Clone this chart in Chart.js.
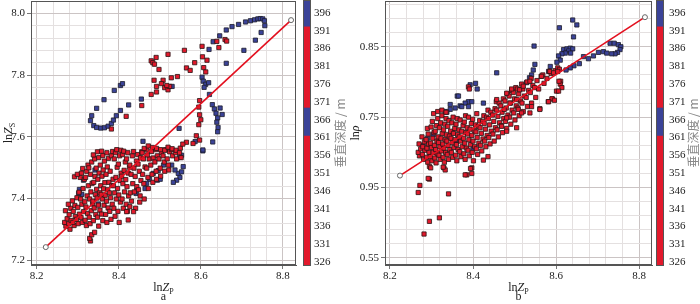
<!DOCTYPE html>
<html><head><meta charset="utf-8">
<script src="https://cdn.jsdelivr.net/npm/chart.js@4.4.0/dist/chart.umd.min.js"></script>
<style>
body{margin:0;background:#fff;width:700px;height:304px;position:relative;overflow:hidden}
canvas{position:absolute;top:0}
</style></head><body>
<canvas id="ca" style="left:0px" width="300" height="304"></canvas>
<canvas id="cbarA" style="left:300px" width="50" height="304"></canvas>
<canvas id="cb" style="left:350px" width="303" height="304"></canvas>
<canvas id="cbarB" style="left:653px" width="47" height="304"></canvas>
<script>
// chart a : lnZp vs lnZs, split by depth colour
const aRed = [
[8.271,7.31],[8.268,7.322],[8.274,7.334],[8.27,7.36],
[8.281,7.30],[8.278,7.318],[8.284,7.328],[8.279,7.347],[8.283,7.368],[8.277,7.381],
[8.291,7.312],[8.288,7.322],[8.294,7.341],[8.289,7.358],[8.293,7.377],[8.287,7.392],[8.292,7.47],
[8.301,7.318],[8.297,7.332],[8.304,7.349],[8.30,7.371],[8.298,7.402],[8.303,7.42],[8.306,7.468],[8.299,7.478],
[8.311,7.322],[8.308,7.338],[8.314,7.357],[8.31,7.381],[8.307,7.398],[8.313,7.432],[8.316,7.462],[8.309,7.482],[8.312,7.497],
[8.321,7.312],[8.318,7.329],[8.324,7.351],[8.32,7.372],[8.317,7.389],[8.323,7.408],[8.326,7.441],[8.319,7.468],[8.322,7.488],[8.325,7.508],
[8.331,7.262],[8.329,7.27],[8.334,7.282],[8.33,7.318],[8.328,7.339],[8.333,7.36],[8.336,7.382],[8.329,7.398],[8.332,7.421],[8.335,7.449],[8.331,7.478],[8.327,7.499],[8.334,7.518],
[8.341,7.29],[8.338,7.328],[8.344,7.348],[8.34,7.369],[8.337,7.391],[8.343,7.412],[8.346,7.429],[8.339,7.452],[8.342,7.471],[8.345,7.498],[8.341,7.528],[8.338,7.541],
[8.351,7.31],[8.348,7.339],[8.354,7.362],[8.35,7.378],[8.347,7.401],[8.353,7.418],[8.356,7.441],[8.349,7.462],[8.352,7.482],[8.355,7.508],[8.351,7.532],[8.348,7.551],
[8.361,7.328],[8.358,7.349],[8.364,7.378],[8.36,7.398],[8.357,7.413],[8.363,7.431],[8.366,7.451],[8.359,7.472],[8.362,7.492],[8.365,7.521],[8.361,7.539],[8.358,7.553],
[8.371,7.322],[8.368,7.348],[8.374,7.369],[8.37,7.391],[8.367,7.41],[8.373,7.428],[8.376,7.452],[8.369,7.478],[8.372,7.502],[8.375,7.53],[8.371,7.548],
[8.381,7.332],[8.378,7.358],[8.384,7.381],[8.38,7.402],[8.377,7.418],[8.383,7.442],[8.386,7.462],[8.379,7.488],[8.382,7.538],[8.385,7.552],
[8.391,7.342],[8.388,7.368],[8.394,7.398],[8.39,7.418],[8.387,7.441],[8.393,7.468],[8.396,7.501],[8.389,7.528],[8.392,7.548],[8.395,7.558],
[8.401,7.322],[8.398,7.358],[8.404,7.388],[8.40,7.411],[8.397,7.432],[8.403,7.458],[8.406,7.482],[8.399,7.511],[8.402,7.538],[8.405,7.556],
[8.411,7.368],[8.408,7.398],[8.414,7.421],[8.41,7.448],[8.407,7.472],[8.413,7.491],[8.416,7.518],[8.409,7.542],[8.412,7.553],
[8.421,7.358],[8.418,7.381],[8.424,7.408],[8.42,7.438],[8.417,7.461],[8.423,7.482],[8.426,7.501],[8.419,7.528],[8.422,7.548],
[8.431,7.391],[8.428,7.418],[8.434,7.448],[8.43,7.478],[8.427,7.508],[8.433,7.538],[8.436,7.552],
[8.441,7.368],[8.438,7.421],[8.444,7.438],[8.44,7.471],[8.437,7.498],[8.443,7.521],[8.446,7.542],
[8.451,7.388],[8.448,7.428],[8.454,7.458],[8.45,7.488],[8.447,7.511],[8.453,7.532],[8.456,7.551],[8.452,7.408],
[8.461,7.448],[8.458,7.478],[8.464,7.502],[8.46,7.528],[8.457,7.548],[8.462,7.398],
[8.471,7.468],[8.468,7.498],[8.474,7.528],[8.47,7.541],[8.467,7.558],[8.472,7.432],
[8.481,7.478],[8.478,7.508],[8.484,7.531],[8.48,7.552],[8.483,7.452],
[8.491,7.488],[8.488,7.518],[8.494,7.538],[8.49,7.558],[8.492,7.462],
[8.501,7.498],[8.498,7.528],[8.504,7.548],[8.502,7.472],
[8.511,7.518],[8.508,7.538],[8.514,7.558],[8.512,7.488],
[8.521,7.508],[8.518,7.528],[8.524,7.551],[8.522,7.492],
[8.531,7.538],[8.528,7.558],[8.541,7.528],[8.538,7.548],
[8.462,7.562],[8.472,7.57],[8.482,7.565],[8.492,7.562],[8.502,7.558],[8.512,7.556],[8.52,7.566],[8.53,7.561],[8.54,7.556],[8.55,7.563],[8.548,7.548],[8.552,7.532],
[8.427,7.373],[8.419,7.357],[8.436,7.357],[8.423,7.33],
// upper scatter
[8.479,7.846],[8.483,7.840],[8.487,7.835],[8.498,7.818],[8.491,7.857],[8.520,7.867],[8.560,7.880],[8.603,7.893],
[8.604,7.859],[8.615,7.848],[8.585,7.840],[8.565,7.823],[8.574,7.815],[8.607,7.824],[8.612,7.810],
[8.639,7.909],[8.644,7.889],[8.659,7.915],[8.663,7.910],
[8.486,7.783],[8.492,7.763],[8.508,7.783],[8.504,7.772],[8.512,7.759],[8.520,7.752],[8.524,7.763],[8.517,7.766],
[8.528,7.791],[8.543,7.795],[8.492,7.745],[8.479,7.737],[8.456,7.701],[8.418,7.666],[8.382,7.625],
[8.597,7.717],[8.595,7.696],[8.597,7.671],[8.600,7.655],[8.595,7.639],[8.589,7.603],[8.597,7.589],
[8.581,7.578],[8.565,7.582],[8.556,7.576]
];
const aBlue = [
[8.676,7.957],[8.692,7.964],[8.709,7.972],[8.721,7.976],[8.731,7.979],[8.739,7.982],[8.745,7.983],[8.751,7.982],
[8.755,7.976],[8.756,7.960],[8.747,7.938],[8.733,7.913],[8.705,7.880],[8.662,7.946],[8.646,7.927],[8.630,7.908],
[8.620,7.883],[8.662,7.838],
[8.603,7.793],[8.606,7.780],[8.612,7.770],[8.608,7.760],[8.619,7.775],
[8.621,7.737],[8.628,7.704],[8.633,7.690],[8.637,7.676],[8.641,7.661],[8.639,7.647],[8.642,7.630],[8.641,7.616],
[8.629,7.583],[8.652,7.672],[8.647,7.693],
[8.547,7.627],[8.530,7.763],[8.455,7.722],[8.459,7.585],[8.424,7.703],[8.605,7.554],
[8.331,7.652],[8.334,7.668],[8.346,7.692],[8.364,7.720],[8.389,7.750],[8.404,7.766],[8.409,7.772],[8.339,7.636],
[8.346,7.630],[8.356,7.628],[8.365,7.629],[8.374,7.634],[8.382,7.643],[8.387,7.654],[8.394,7.668],[8.404,7.685],
[8.553,7.540],[8.548,7.533],[8.509,7.508],[8.496,7.490],[8.484,7.481],[8.475,7.462],[8.468,7.449],[8.464,7.432],
[8.444,7.427],[8.442,7.416],[8.557,7.503],[8.545,7.481],[8.549,7.468],[8.541,7.459],[8.533,7.452],[8.537,7.492],
[8.553,7.486],[8.605,7.557],[8.586,7.584],[8.529,7.508],[8.494,7.459],[8.501,7.462],
[8.342,7.492],[8.314,7.459],[8.304,7.429],[8.310,7.413],[8.350,7.382],[8.302,7.416]
];
const fitA = [[8.222,7.242],[8.82,7.978]];

// chart b : lnZp vs ln rho
const bRed = [
[8.271,0.695],[8.268,0.70],[8.274,0.705],[8.27,0.712],
[8.281,0.69],[8.278,0.697],[8.284,0.703],[8.279,0.708],[8.283,0.715],[8.277,0.722],
[8.291,0.686],[8.288,0.693],[8.294,0.70],[8.289,0.706],[8.293,0.712],[8.287,0.718],[8.292,0.726],[8.29,0.734],
[8.301,0.688],[8.297,0.694],[8.304,0.70],[8.30,0.707],[8.298,0.713],[8.303,0.72],[8.306,0.728],[8.299,0.736],[8.302,0.744],
[8.311,0.685],[8.308,0.692],[8.314,0.698],[8.31,0.704],[8.307,0.71],[8.313,0.716],[8.316,0.722],[8.309,0.73],[8.312,0.738],[8.315,0.748],
[8.321,0.69],[8.318,0.696],[8.324,0.702],[8.32,0.708],[8.317,0.714],[8.323,0.72],[8.326,0.727],[8.319,0.735],[8.322,0.742],[8.325,0.752],
[8.331,0.686],[8.328,0.693],[8.334,0.70],[8.33,0.706],[8.327,0.712],[8.333,0.718],[8.336,0.725],[8.329,0.732],[8.332,0.74],[8.335,0.748],
[8.341,0.69],[8.338,0.697],[8.344,0.704],[8.34,0.71],[8.337,0.716],[8.343,0.723],[8.346,0.73],[8.339,0.737],[8.342,0.745],
[8.351,0.693],[8.348,0.70],[8.354,0.707],[8.35,0.714],[8.347,0.72],[8.353,0.727],[8.356,0.734],[8.349,0.742],[8.352,0.75],
[8.361,0.688],[8.358,0.696],[8.364,0.704],[8.36,0.711],[8.357,0.718],[8.363,0.725],[8.366,0.732],[8.359,0.74],[8.362,0.748],
[8.371,0.694],[8.368,0.701],[8.374,0.708],[8.37,0.716],[8.367,0.722],[8.373,0.73],[8.376,0.738],[8.369,0.746],
[8.381,0.69],[8.378,0.698],[8.384,0.706],[8.38,0.713],[8.377,0.72],[8.383,0.728],[8.386,0.735],[8.379,0.743],[8.382,0.752],
[8.391,0.695],[8.388,0.703],[8.394,0.711],[8.39,0.718],[8.387,0.726],[8.393,0.733],[8.396,0.741],[8.389,0.75],
[8.401,0.688],[8.398,0.70],[8.404,0.708],[8.40,0.716],[8.397,0.724],[8.403,0.731],[8.406,0.739],[8.399,0.747],
[8.411,0.697],[8.408,0.705],[8.414,0.713],[8.41,0.721],[8.407,0.729],[8.413,0.737],[8.416,0.745],[8.409,0.755],
[8.421,0.702],[8.418,0.71],[8.424,0.719],[8.42,0.727],[8.417,0.735],[8.423,0.744],[8.426,0.752],
[8.431,0.708],[8.428,0.716],[8.434,0.724],[8.43,0.733],[8.427,0.741],[8.433,0.75],[8.436,0.76],
[8.441,0.712],[8.438,0.721],[8.444,0.73],[8.44,0.739],[8.437,0.748],[8.443,0.757],
[8.451,0.716],[8.448,0.726],[8.454,0.735],[8.45,0.744],[8.447,0.753],[8.453,0.762],[8.456,0.772],
[8.461,0.722],[8.458,0.732],[8.464,0.742],[8.46,0.751],[8.457,0.76],[8.463,0.77],
[8.471,0.728],[8.468,0.738],[8.474,0.748],[8.47,0.757],[8.467,0.766],[8.473,0.776],
[8.481,0.734],[8.478,0.744],[8.484,0.753],[8.48,0.763],[8.477,0.773],[8.483,0.783],
[8.491,0.74],[8.488,0.75],[8.494,0.76],[8.49,0.77],[8.487,0.78],[8.493,0.788],
[8.501,0.746],[8.498,0.756],[8.504,0.766],[8.50,0.776],[8.497,0.785],[8.503,0.792],
[8.511,0.752],[8.508,0.763],[8.514,0.773],[8.51,0.783],[8.507,0.79],
[8.521,0.758],[8.518,0.77],[8.524,0.78],[8.52,0.79],[8.517,0.797],
[8.531,0.765],[8.528,0.778],[8.534,0.788],[8.53,0.80],
[8.541,0.77],[8.538,0.785],[8.544,0.795],[8.54,0.805],
[8.551,0.778],[8.548,0.792],[8.554,0.802],
[8.561,0.762],[8.558,0.79],[8.564,0.808],
[8.571,0.798],[8.568,0.81],
[8.581,0.772],[8.578,0.805],[8.584,0.815],
[8.591,0.776],[8.588,0.812],
[8.601,0.787],[8.598,0.816],[8.604,0.82],
[8.611,0.801],[8.608,0.818],[8.61,0.797],[8.614,0.792],
[8.272,0.653],[8.268,0.643],[8.295,0.662],[8.341,0.641],[8.319,0.607],[8.295,0.602],[8.282,0.584],[8.385,0.668],
[8.397,0.678],[8.397,0.670],[8.330,0.678],[8.333,0.675],[8.295,0.68],[8.298,0.678],[8.381,0.668],[8.394,0.677],
[8.425,0.689],[8.436,0.694],[8.328,0.679],[8.292,0.663],
[8.305,0.755],[8.315,0.758],[8.325,0.76],[8.335,0.757],[8.389,0.793],[8.391,0.79],[8.457,0.775],[8.481,0.784],
[8.493,0.79],[8.512,0.789],[8.521,0.794],[8.537,0.801],[8.565,0.808],[8.585,0.815],[8.594,0.813],[8.604,0.815],
[8.607,0.801],[8.606,0.787],[8.59,0.776],[8.596,0.774],[8.582,0.772],[8.561,0.761],[8.541,0.765],[8.505,0.775],
[8.489,0.77],[8.509,0.761],[8.517,0.756],[8.537,0.756],[8.475,0.761],[8.481,0.749],[8.469,0.737],[8.481,0.73],[8.505,0.735]
];
const bBlue = [
[8.640,0.888],[8.650,0.881],[8.608,0.877],[8.642,0.864],[8.547,0.851],
[8.618,0.846],[8.626,0.847],[8.634,0.848],[8.640,0.847],[8.630,0.844],[8.622,0.841],[8.614,0.840],[8.606,0.837],
[8.610,0.831],[8.602,0.828],[8.635,0.841],
[8.666,0.836],[8.678,0.833],[8.690,0.837],[8.702,0.842],[8.714,0.843],[8.722,0.841],[8.730,0.855],[8.740,0.855],
[8.750,0.853],[8.756,0.850],[8.754,0.846],[8.748,0.842],[8.742,0.840],[8.734,0.840],
[8.656,0.826],[8.643,0.823],[8.634,0.820],[8.624,0.817],
[8.549,0.825],[8.545,0.817],[8.541,0.810],[8.536,0.806],[8.529,0.799],[8.457,0.813],[8.406,0.798],[8.410,0.790],
[8.362,0.780],[8.425,0.770],[8.389,0.772],[8.381,0.770],[8.369,0.766],[8.357,0.763],[8.345,0.761],[8.337,0.757],
[8.389,0.765],[8.304,0.725],[8.361,0.716],[8.393,0.796],[8.365,0.780],[8.345,0.768],[8.333,0.758],[8.373,0.765],
[8.397,0.772],[8.586,0.822],[8.582,0.815],
[8.29,0.72],[8.31,0.70],[8.35,0.728],[8.40,0.705],[8.28,0.71]
];
const fitB = [[8.224,0.667],[8.814,0.892]];

// axes
const xMajor = [8.2, 8.4, 8.6, 8.8];
const yMajorA = [7.2, 7.4, 7.6, 7.8, 8.0];
const yMajorB = [0.55, 0.65, 0.75, 0.85];
const yLabelsB = ['0.55', '0.95', '0.75', '0.85'];

// colour bar (vertical depth, m)
const depthTicks = [326,331,336,341,346,351,356,361,366,371,376,381,386,391,396];
const depthBreaks = [324.9, 361.4, 369.3, 392.1, 399.65];
const depthColors = ['#e2192c', '#3b4398', '#e2192c', '#3b4398'];

const RED = '#e2192c', BLUE = '#3b4398';
const SERIF = '"Liberation Serif","Times New Roman",serif';

function steps(from, to, step){
  const out=[];
  for(let v=from; v<=to+1e-9; v+=step) out.push(+v.toFixed(4));
  return out;
}
function isMajor(v, majors){ return majors.some(m=>Math.abs(m-v)<1e-6); }
function noPad(s){ s.paddingTop=0; s.paddingBottom=0; s.paddingLeft=0; s.paddingRight=0; }

function richText(ctx, parts, cx, cy, rot){
  ctx.save();
  ctx.translate(cx, cy);
  ctx.rotate(rot||0);
  let w=0;
  parts.forEach(p=>{ctx.font=p.f; p.w=ctx.measureText(p.t).width; w+=p.w;});
  let x=-w/2;
  ctx.fillStyle='#222';
  ctx.textBaseline='alphabetic';
  parts.forEach(p=>{ctx.font=p.f; ctx.fillText(p.t, x, 4+(p.dy||0)); x+=p.w;});
  ctx.restore();
}

const frame = {
  id:'frame',
  afterDraw(chart, args, o){
    const {ctx, chartArea:a} = chart;
    ctx.save();
    ctx.strokeStyle='#555'; ctx.lineWidth=1;
    ctx.strokeRect(Math.round(a.left)+0.5, Math.round(a.top)+0.5, Math.round(a.right-a.left)-1, Math.round(a.bottom-a.top)-1);
    ctx.restore();
    const cx=(a.left+a.right)/2;
    if(o.xTitle){
      richText(ctx, o.xTitle, cx, 287);
      richText(ctx, [{t:o.letter, f:'12px '+SERIF}], cx, 296);
    }
    if(o.yTitle) richText(ctx, o.yTitle, o.yTitleX, (a.top+a.bottom)/2, -Math.PI/2);
  }
};

function scatter(id, red, blue, fit, xr, yr, yMajor, yLabels, yW, padR, titles){
  const xTicks = steps(8.2, 8.8, 0.04);
  const yTicks = steps(yr.from, yr.to, yr.step);
  const gridColor = majors => c => isMajor(c.tick.value, majors) ? '#cbc4c4' : '#e4e0e0';
  const tickColor = majors => c => isMajor(c.tick.value, majors) ? '#777' : 'rgba(0,0,0,0)';
  const pts = arr => arr.map(p=>({x:p[0], y:p[1]}));
  return new Chart(id, {
    type:'scatter',
    data:{datasets:[
      {type:'line', data:pts(fit), borderColor:'#e3101f', borderWidth:1.6, showLine:true,
       pointRadius:2.5, pointBackgroundColor:'#fff', pointBorderColor:'#666', pointBorderWidth:1, order:0},
      {data:pts(blue), pointStyle:'rect', pointRadius:3, backgroundColor:BLUE, borderColor:'#1c1c2a', borderWidth:0.8, order:2},
      {data:pts(red), pointStyle:'rect', pointRadius:3, backgroundColor:RED, borderColor:'#2a1414', borderWidth:0.8, order:1}
    ]},
    options:{
      responsive:false, animation:false,
      layout:{autoPadding:false, padding:{top:1, right:padR, left:0, bottom:0}},
      plugins:{legend:{display:false}, tooltip:{enabled:false}, frame:titles},
      scales:{
        x:{type:'linear', min:xr[0], max:xr[1],
           afterBuildTicks:s=>{s.ticks=xTicks.map(v=>({value:v}));},
           afterFit:s=>{s.height=39; noPad(s);},
           ticks:{font:{family:SERIF, size:11}, color:'#222', padding:1, maxRotation:0, autoSkip:false,
                  callback:v=>isMajor(v, xMajor) ? v.toFixed(1) : ''},
           grid:{color:gridColor(xMajor), tickColor:tickColor(xMajor), tickLength:4},
           border:{color:'#555'}},
        y:{type:'linear', min:yr.min, max:yr.max,
           afterBuildTicks:s=>{s.ticks=yTicks.map(v=>({value:v}));},
           afterFit:s=>{s.width=yW; noPad(s);},
           ticks:{font:{family:SERIF, size:11}, color:'#222', padding:2, autoSkip:false,
                  callback:v=>{const i=yMajor.findIndex(m=>Math.abs(m-v)<1e-6); return i<0 ? '' : yLabels[i];}},
           grid:{color:gridColor(yMajor), tickColor:tickColor(yMajor), tickLength:4},
           border:{color:'#555'}}
      }
    },
    plugins:[frame]
  });
}

const cbFrame = {
  id:'cbFrame',
  afterDraw(chart, args, o){
    const {ctx, chartArea:a} = chart;
    ctx.save();
    ctx.strokeStyle='#555'; ctx.lineWidth=1;
    ctx.strokeRect(Math.round(a.left)+0.5, Math.round(a.top)+0.5, Math.round(a.right-a.left)-1, Math.round(a.bottom-a.top)-1);
    ctx.translate(o.titleX, 133);
    ctx.rotate(-Math.PI/2);
    ctx.font='12px "Noto Sans CJK SC"';
    ctx.fillStyle='#888';
    ctx.textAlign='center';
    ctx.textBaseline='middle';
    ctx.fillText('垂直深度 / m', 0, 0);
    ctx.restore();
  }
};

function colorBar(id, axisW, pad, titleX){
  return new Chart(id, {
    type:'bar',
    data:{labels:[''], datasets:depthColors.map((c,i)=>({
      data:[[depthBreaks[i], depthBreaks[i+1]]], backgroundColor:c, borderWidth:0,
      grouped:false, barPercentage:1, categoryPercentage:1}))},
    options:{
      responsive:false, animation:false,
      layout:{autoPadding:false, padding:{left:3, top:0, bottom:38, right:0}},
      plugins:{legend:{display:false}, tooltip:{enabled:false}, cbFrame:{titleX}},
      scales:{
        x:{display:false},
        y:{position:'right', min:depthBreaks[0], max:depthBreaks[depthBreaks.length-1],
           afterBuildTicks:s=>{s.ticks=depthTicks.map(v=>({value:v}));},
           afterFit:s=>{s.width=axisW; noPad(s);},
           ticks:{font:{family:SERIF, size:11}, color:'#222', padding:pad, autoSkip:false},
           grid:{display:false, drawTicks:false}, border:{display:false}}
      }
    },
    plugins:[cbFrame]
  });
}

const italicZ = 'italic 12px '+SERIF, plain = '12px '+SERIF, sub = '8px '+SERIF;
scatter('ca', aRed, aBlue, fitA, [8.186, 8.832], {min:7.184, max:8.04, from:7.2, to:8.0, step:0.04},
  yMajorA, yMajorA.map(v=>v.toFixed(1)), 31, 4,
  {xTitle:[{t:'ln',f:plain},{t:'Z',f:italicZ},{t:'P',f:sub,dy:3}], letter:'a',
   yTitle:[{t:'ln',f:plain},{t:'Z',f:italicZ},{t:'S',f:sub,dy:3}], yTitleX:8});
scatter('cb', bRed, bBlue, fitB, [8.188, 8.831], {min:0.540, max:0.915, from:0.55, to:0.91, step:0.02},
  yMajorB, yLabelsB, 35, 1,
  {xTitle:[{t:'ln',f:plain},{t:'Z',f:italicZ},{t:'P',f:sub,dy:3}], letter:'b',
   yTitle:[{t:'ln',f:plain},{t:'ρ',f:italicZ}], yTitleX:5});
colorBar('cbarA', 39, 3, 40);
colorBar('cbarB', 36, 5, 40);
</script>
</body></html>
